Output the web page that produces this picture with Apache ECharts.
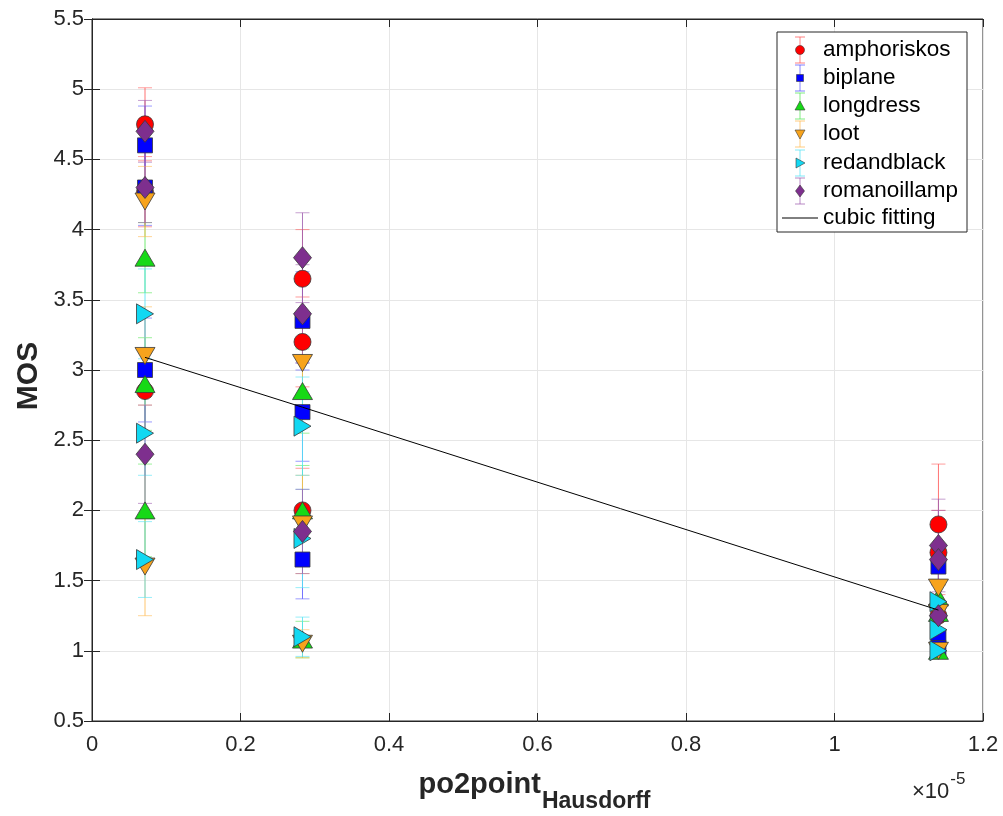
<!DOCTYPE html>
<html>
<head>
<meta charset="utf-8">
<script src="https://cdn.jsdelivr.net/npm/echarts@6/dist/echarts.min.js"></script>
<style>
html,body{margin:0;padding:0;background:#fff;}
#chart{width:1003px;height:816px;}
</style>
</head>
<body>
<div id="chart"></div>
<script>
// x values in units of 1e-5 (axis shows ×10^-5)
const clusterX = [0.0714, 0.2835, 1.14];
const seriesNames = ['amphoriskos','biplane','longdress','loot','redandblack','romanoillamp'];
// MOS values: three points per cluster, clusters in order of clusterX
const amphoriskos  = [4.75, 4.27, 2.85,  3.65, 3.20, 2.00,  1.90, 1.70, 1.25];
const biplane      = [4.60, 4.30, 3.00,  3.35, 2.70, 1.65,  1.60, 1.10, 1.02];
const longdress    = [3.80, 2.90, 2.00,  2.85, 2.00, 1.08,  1.38, 1.27, 1.00];
const loot         = [4.20, 3.10, 1.60,  3.05, 1.90, 1.05,  1.45, 1.27, 1.00];
const redandblack  = [3.40, 2.55, 1.65,  2.60, 1.80, 1.10,  1.35, 1.15, 1.00];
const romanoillamp = [4.70, 4.30, 2.40,  3.80, 3.40, 1.85,  1.75, 1.65, 1.25];
// confidence-interval half widths
const amphoriskosErr  = [0.26, 0.25, 0.30,  0.35, 0.32, 0.30,  0.43, 0.30, 0.25];
const biplaneErr      = [0.28, 0.27, 0.37,  0.35, 0.35, 0.28,  0.30, 0.15, 0.05];
const longdressErr    = [0.25, 0.33, 0.33,  0.30, 0.32, 0.13,  0.25, 0.20, 0.03];
const lootErr         = [0.25, 0.35, 0.35,  0.35, 0.35, 0.10,  0.30, 0.20, 0.03];
const redandblackErr  = [0.32, 0.30, 0.27,  0.35, 0.35, 0.14,  0.25, 0.15, 0.03];
const romanoillampErr = [0.22, 0.25, 0.35,  0.32, 0.35, 0.30,  0.33, 0.35, 0.22];
// cubic fitting curve
const fitX = [0.0714, 0.2835, 1.14];
const fitY = [3.09, 2.735, 1.29];
const xTicks = [0, 0.2, 0.4, 0.6, 0.8, 1, 1.2];
const yTicks = [0.5, 1, 1.5, 2, 2.5, 3, 3.5, 4, 4.5, 5, 5.5];

const values = [amphoriskos, biplane, longdress, loot, redandblack, romanoillamp];
const errors = [amphoriskosErr, biplaneErr, longdressErr, lootErr, redandblackErr, romanoillampErr];
const colors = ['#ff0000', '#0000ff', '#16d916', '#f7a31c', '#12d8f2', '#7e2f8e'];
const barColors = ['#ff5a5a', '#5a5aff', '#5ae65a', '#ffbb55', '#55e3f5', '#a060b0'];
const symbols = ['circle', 'rect', 'triangle', 'triangle', 'triangle', 'diamond'];
const rotates = [0, 0, 0, 180, -90, 0];
const sizes = [17, 15, [20,17], [20,17], [20,17], [18,22]];

function xOf(i){ return clusterX[Math.floor(i/3)]; }

const series = [];
values.forEach((vals, s) => {
  const data = vals.map((v, i) => [xOf(i), v, errors[s][i]]);
  series.push({
    type: 'custom',
    name: seriesNames[s] + ' CI',
    data: data,
    silent: true,
    encode: {x: 0, y: 1},
    renderItem: function(params, api){
      const x = api.value(0), y = api.value(1), e = api.value(2);
      const top = api.coord([x, y + e]);
      const bot = api.coord([x, y - e]);
      const hw = 7;
      return {
        type: 'group',
        children: [
          {type:'line', shape:{x1:top[0], y1:top[1], x2:bot[0], y2:bot[1]}, style:{stroke: barColors[s], lineWidth:1, opacity:0.85}},
          {type:'line', shape:{x1:top[0]-hw, y1:top[1], x2:top[0]+hw, y2:top[1]}, style:{stroke: barColors[s], lineWidth:1, opacity:0.6}},
          {type:'line', shape:{x1:bot[0]-hw, y1:bot[1], x2:bot[0]+hw, y2:bot[1]}, style:{stroke: barColors[s], lineWidth:1, opacity:0.6}}
        ]
      };
    }
  });
  series.push({
    type: 'scatter',
    name: seriesNames[s],
    data: data.map(d => [d[0], d[1]]),
    symbol: symbols[s],
    symbolRotate: rotates[s],
    symbolSize: sizes[s],
    itemStyle: {color: colors[s], borderColor: '#3a3a3a', borderWidth: 0.8, opacity: 1},
    silent: true
  });
});
series.push({
  type: 'line',
  name: 'cubic fitting',
  data: fitX.map((x, i) => [x, fitY[i]]),
  showSymbol: false,
  lineStyle: {color: '#000', width: 1},
  silent: true,
  z: 5
});

const FONT = '"Liberation Sans", Arial, Helvetica, sans-serif';
const fmt = v => String(+(+v).toFixed(2));
const mctx = document.createElement('canvas').getContext('2d');
function textW(t, f){ mctx.font = f; return mctx.measureText(t).width; }

// legend drawn as graphic
const legendY = [50, 78, 106, 134, 163, 191, 218];
const LF = '22.5px ' + FONT;
const els = [{
  type:'rect', shape:{x:777, y:32, width:190, height:200},
  style:{fill:'#fff', stroke:'#262626', lineWidth:1}, z: 100
}];
function legendMarker(s, cx, cy){
  const st = {fill: colors[s], stroke:'#3a3a3a', lineWidth:0.6};
  if (s === 0) return {type:'circle', shape:{cx, cy, r:4.5}, style:st, z:102};
  if (s === 1) return {type:'rect', shape:{x:cx-3.5, y:cy-3.5, width:7, height:7}, style:st, z:102};
  if (s === 2) return {type:'polygon', shape:{points:[[cx, cy-5],[cx+5, cy+4],[cx-5, cy+4]]}, style:st, z:102};
  if (s === 3) return {type:'polygon', shape:{points:[[cx-5, cy-4],[cx+5, cy-4],[cx, cy+5]]}, style:st, z:102};
  if (s === 4) return {type:'polygon', shape:{points:[[cx-4, cy-5],[cx+5, cy],[cx-4, cy+5]]}, style:st, z:102};
  return {type:'polygon', shape:{points:[[cx, cy-6],[cx+4.5, cy],[cx, cy+6],[cx-4.5, cy]]}, style:st, z:102};
}
seriesNames.forEach((n, s) => {
  const cy = legendY[s], cx = 800;
  els.push({type:'line', shape:{x1:cx, y1:cy-13, x2:cx, y2:cy+13}, style:{stroke:barColors[s], lineWidth:1, opacity:0.75}, z:101});
  els.push({type:'line', shape:{x1:cx-5, y1:cy-13, x2:cx+5, y2:cy-13}, style:{stroke:barColors[s], lineWidth:1, opacity:0.75}, z:101});
  els.push({type:'line', shape:{x1:cx-5, y1:cy+13, x2:cx+5, y2:cy+13}, style:{stroke:barColors[s], lineWidth:1, opacity:0.75}, z:101});
  els.push(legendMarker(s, cx, cy));
  els.push({type:'text', x:823, y:cy, style:{text:n, font:LF, fill:'#000', textVerticalAlign:'middle'}, z:102});
});
els.push({type:'line', shape:{x1:782, y1:218, x2:818, y2:218}, style:{stroke:'#000', lineWidth:1}, z:101});
els.push({type:'text', x:823, y:218, style:{text:'cubic fitting', font:LF, fill:'#000', textVerticalAlign:'middle'}, z:102});

// axis titles
els.push({type:'text', x:29, y:376, rotation:Math.PI/2,
  style:{text:'MOS', font:'bold 30px ' + FONT, fill:'#262626', textAlign:'center', textVerticalAlign:'middle'}});
const F1 = 'bold 29px ' + FONT, F2 = 'bold 23px ' + FONT;
const w1 = textW('po2point', F1), w2 = textW('Hausdorff', F2);
const startX = 534 - (w1 + w2) / 2;
els.push({type:'text', x:startX, y:785, style:{text:'po2point', font:F1, fill:'#262626', textAlign:'left', textVerticalAlign:'middle'}});
els.push({type:'text', x:startX + w1 + 1, y:802, style:{text:'Hausdorff', font:F2, fill:'#262626', textAlign:'left', textVerticalAlign:'middle'}});
const F3 = '22px ' + FONT, F4 = '17px ' + FONT;
const w3 = textW('×10', F3);
els.push({type:'text', x:912, y:792, style:{text:'×10', font:F3, fill:'#262626', textAlign:'left', textVerticalAlign:'middle'}});
els.push({type:'text', x:912 + w3 + 1, y:779, style:{text:'-5', font:F4, fill:'#262626', textAlign:'left', textVerticalAlign:'middle'}});

const axisCommon = {
  axisLine: {show: true, lineStyle: {color: '#262626'}},
  axisTick: {show: true, inside: true, length: 8, lineStyle: {color: '#262626'}}
};
const option = {
  animation: false,
  backgroundColor: '#fff',
  grid: {left: 92, right: 20, top: 19, bottom: 95, show: true, borderColor: '#262626', borderWidth: 1},
  xAxis: [Object.assign({
    type: 'value', min: 0, max: 1.2, interval: 0.2,
    axisLabel: {formatter: fmt, color: '#262626', fontSize: 22, fontFamily: FONT, margin: 13},
    splitLine: {show: true, lineStyle: {color: '#e6e6e6'}}
  }, axisCommon), Object.assign({
    type: 'value', min: 0, max: 1.2, interval: 0.2, position: 'top',
    axisLabel: {show: false}, splitLine: {show: false}
  }, axisCommon)],
  yAxis: [Object.assign({
    type: 'value', min: 0.5, max: 5.5, interval: 0.5,
    axisLabel: {formatter: fmt, color: '#262626', fontSize: 22, fontFamily: FONT, margin: 8},
    splitLine: {show: true, lineStyle: {color: '#e6e6e6'}}
  }, axisCommon), Object.assign({
    type: 'value', min: 0.5, max: 5.5, interval: 0.5, position: 'right',
    axisLabel: {show: false}, splitLine: {show: false}
  }, axisCommon)],
  series: series,
  graphic: els
};
const chart = echarts.init(document.getElementById('chart'), null, {renderer: 'canvas'});
chart.setOption(option);
</script>
</body>
</html>
